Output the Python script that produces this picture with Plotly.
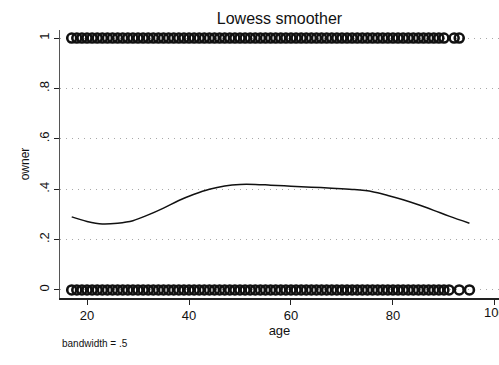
import plotly.graph_objects as go

# Observed ages of owners (owner = 1) and non-owners (owner = 0)
ages_owner1 = [17, 18, 19, 20, 21, 22, 23, 24, 25, 26, 27, 28, 29, 30, 31, 32, 33, 34, 35,
               36, 37, 38, 39, 40, 41, 42, 43, 44, 45, 46, 47, 48, 49, 50, 51, 52, 53, 54,
               55, 56, 57, 58, 59, 60, 61, 62, 63, 64, 65, 66, 67, 68, 69, 70, 71, 72, 73,
               74, 75, 76, 77, 78, 79, 80, 81, 82, 83, 84, 85, 86, 87, 88, 89, 90, 92, 93]
ages_owner0 = [17, 18, 19, 20, 21, 22, 23, 24, 25, 26, 27, 28, 29, 30, 31, 32, 33, 34, 35,
               36, 37, 38, 39, 40, 41, 42, 43, 44, 45, 46, 47, 48, 49, 50, 51, 52, 53, 54,
               55, 56, 57, 58, 59, 60, 61, 62, 63, 64, 65, 66, 67, 68, 69, 70, 71, 72, 73,
               74, 75, 76, 77, 78, 79, 80, 81, 82, 83, 84, 85, 86, 87, 88, 89, 90, 91, 93, 95]

# Lowess smoothed curve
lowess_age = [17, 20, 23, 26, 29, 32, 35, 38, 41, 44, 47, 50, 53, 56, 60, 64, 68, 72, 76,
              79, 82, 85, 88, 91, 95]
lowess_val = [0.290, 0.272, 0.262, 0.265, 0.275, 0.298, 0.325, 0.355, 0.380, 0.400, 0.413,
              0.419, 0.419, 0.416, 0.412, 0.408, 0.404, 0.399, 0.390, 0.375, 0.358, 0.338,
              0.316, 0.293, 0.265]

y_ticks = [0, 0.2, 0.4, 0.6, 0.8, 1]
y_ticklabels = ["0", ".2", ".4", ".6", ".8", "1"]
x_ticks = [20, 40, 60, 80, 100]

FONT = "Liberation Sans, Arial, sans-serif"

fig = go.Figure()
marker_style = dict(symbol="circle-open", size=9, color="#111111", line=dict(width=2.6, color="#111111"))
fig.add_trace(go.Scatter(x=ages_owner1, y=[1] * len(ages_owner1), mode="markers",
                         marker=marker_style, showlegend=False, cliponaxis=False))
fig.add_trace(go.Scatter(x=ages_owner0, y=[0] * len(ages_owner0), mode="markers",
                         marker=marker_style, showlegend=False, cliponaxis=False))
fig.add_trace(go.Scatter(x=lowess_age, y=lowess_val, mode="lines",
                         line=dict(color="#111111", width=1.5, shape="spline"),
                         showlegend=False))

fig.update_layout(
    width=499, height=365,
    margin=dict(l=60, r=0, t=30, b=67),
    paper_bgcolor="white", plot_bgcolor="white",
    font=dict(family=FONT, size=12, color="#111111"),
    title=dict(text="Lowess smoother", x=0.5, xref="paper", xanchor="center",
               y=1 - 18 / 365, yanchor="middle", font=dict(size=16, family=FONT, color="#111111")),
    xaxis=dict(range=[14.7, 100.8], tickvals=x_ticks, ticks="outside", ticklen=5,
               tickcolor="#222222", showline=True, linecolor="#222222", linewidth=1.5,
               showgrid=False, zeroline=False,
               title=dict(text="age", standoff=2, font=dict(size=13)),
               tickfont=dict(size=13)),
    yaxis=dict(range=[-0.032, 1.032], tickvals=y_ticks, ticktext=y_ticklabels,
               tickangle=-90, ticks="outside", ticklen=5, tickcolor="#222222",
               showline=True, linecolor="#555555", linewidth=1.2,
               showgrid=True, gridcolor="#a8a8a8", griddash="1px,5px", gridwidth=1,
               zeroline=False,
               title=dict(text="owner", standoff=4, font=dict(size=12)),
               tickfont=dict(size=13)),
    annotations=[dict(text="bandwidth = .5", xref="paper", yref="paper",
                      x=0, y=-(343 - 298) / 268, xanchor="left", yanchor="middle",
                      showarrow=False, font=dict(size=10, family=FONT, color="#111111")),
                 dict(text="100", xref="x", yref="paper", x=100, y=-14 / 268,
                      xanchor="center", yanchor="middle", showarrow=False,
                      font=dict(size=13, family=FONT, color="#111111"))],
)

fig.write_html("out.html")
